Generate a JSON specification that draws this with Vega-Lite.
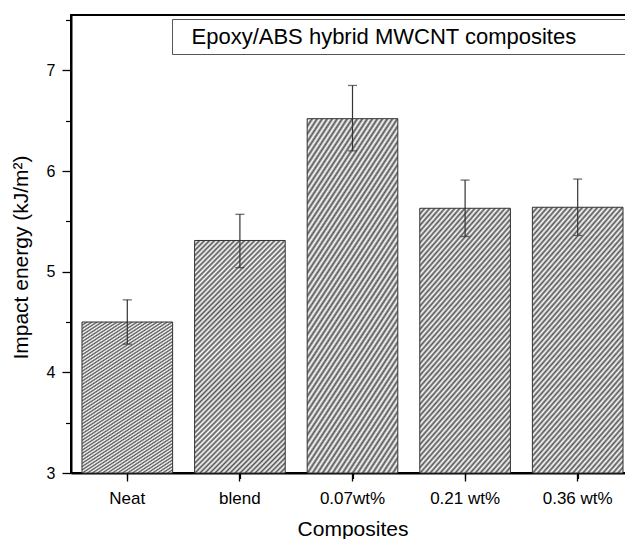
{
  "$schema": "https://vega.github.io/schema/vega-lite/v6.json",
  "autosize": {"type": "none"},
  "width": 563,
  "height": 458,
  "padding": {"left": 71, "top": 15, "right": -9, "bottom": 66},
  "background": "#ffffff",
  "config": {
    "font": "Liberation Sans",
    "view": {"stroke": "#000000", "strokeWidth": 2},
    "axis": {
      "grid": false,
      "labelFont": "Liberation Sans",
      "titleFont": "Liberation Sans",
      "labelColor": "#000000",
      "titleColor": "#000000",
      "domainColor": "#000000",
      "tickColor": "#000000",
      "titleFontWeight": "normal"
    }
  },
  "data": {
    "values": [
      {"composite": "Neat", "energy": 4.50, "lo": 4.28, "hi": 4.72, "series": "Epoxy/ABS hybrid MWCNT composites\u00a0\u00a0\u00a0\u00a0\u00a0\u00a0\u00a0\u00a0\u00a0\u00a0\u200d"},
      {"composite": "blend", "energy": 5.31, "lo": 5.04, "hi": 5.57, "series": "Epoxy/ABS hybrid MWCNT composites\u00a0\u00a0\u00a0\u00a0\u00a0\u00a0\u00a0\u00a0\u00a0\u00a0\u200d"},
      {"composite": "0.07wt%", "energy": 6.52, "lo": 6.20, "hi": 6.85, "series": "Epoxy/ABS hybrid MWCNT composites\u00a0\u00a0\u00a0\u00a0\u00a0\u00a0\u00a0\u00a0\u00a0\u00a0\u200d"},
      {"composite": "0.21 wt%", "energy": 5.63, "lo": 5.35, "hi": 5.91, "series": "Epoxy/ABS hybrid MWCNT composites\u00a0\u00a0\u00a0\u00a0\u00a0\u00a0\u00a0\u00a0\u00a0\u00a0\u200d"},
      {"composite": "0.36 wt%", "energy": 5.64, "lo": 5.36, "hi": 5.92, "series": "Epoxy/ABS hybrid MWCNT composites\u00a0\u00a0\u00a0\u00a0\u00a0\u00a0\u00a0\u00a0\u00a0\u00a0\u200d"}
    ]
  },
  "layer": [
    {
      "layer": [
        {
          "mark": {
            "type": "bar",
            "strokeWidth": 1,
            "fill": {
              "gradient": "linear",
              "x1": 0, "y1": 0, "x2": 0.4748, "y2": 1.2067,
              "stops": [
                {"offset":0,"color":"#555"},{"offset":0.0078,"color":"#fff"},{"offset":0.0156,"color":"#555"},{"offset":0.0234,"color":"#fff"},
                {"offset":0.0313,"color":"#555"},{"offset":0.0391,"color":"#fff"},{"offset":0.0469,"color":"#555"},{"offset":0.0547,"color":"#fff"},
                {"offset":0.0625,"color":"#555"},{"offset":0.0703,"color":"#fff"},{"offset":0.0781,"color":"#555"},{"offset":0.0859,"color":"#fff"},
                {"offset":0.0938,"color":"#555"},{"offset":0.1016,"color":"#fff"},{"offset":0.1094,"color":"#555"},{"offset":0.1172,"color":"#fff"},
                {"offset":0.125,"color":"#555"},{"offset":0.1328,"color":"#fff"},{"offset":0.1406,"color":"#555"},{"offset":0.1484,"color":"#fff"},
                {"offset":0.1563,"color":"#555"},{"offset":0.1641,"color":"#fff"},{"offset":0.1719,"color":"#555"},{"offset":0.1797,"color":"#fff"},
                {"offset":0.1875,"color":"#555"},{"offset":0.1953,"color":"#fff"},{"offset":0.2031,"color":"#555"},{"offset":0.2109,"color":"#fff"},
                {"offset":0.2188,"color":"#555"},{"offset":0.2266,"color":"#fff"},{"offset":0.2344,"color":"#555"},{"offset":0.2422,"color":"#fff"},
                {"offset":0.25,"color":"#555"},{"offset":0.2578,"color":"#fff"},{"offset":0.2656,"color":"#555"},{"offset":0.2734,"color":"#fff"},
                {"offset":0.2813,"color":"#555"},{"offset":0.2891,"color":"#fff"},{"offset":0.2969,"color":"#555"},{"offset":0.3047,"color":"#fff"},
                {"offset":0.3125,"color":"#555"},{"offset":0.3203,"color":"#fff"},{"offset":0.3281,"color":"#555"},{"offset":0.3359,"color":"#fff"},
                {"offset":0.3438,"color":"#555"},{"offset":0.3516,"color":"#fff"},{"offset":0.3594,"color":"#555"},{"offset":0.3672,"color":"#fff"},
                {"offset":0.375,"color":"#555"},{"offset":0.3828,"color":"#fff"},{"offset":0.3906,"color":"#555"},{"offset":0.3984,"color":"#fff"},
                {"offset":0.4063,"color":"#555"},{"offset":0.4141,"color":"#fff"},{"offset":0.4219,"color":"#555"},{"offset":0.4297,"color":"#fff"},
                {"offset":0.4375,"color":"#555"},{"offset":0.4453,"color":"#fff"},{"offset":0.4531,"color":"#555"},{"offset":0.4609,"color":"#fff"},
                {"offset":0.4688,"color":"#555"},{"offset":0.4766,"color":"#fff"},{"offset":0.4844,"color":"#555"},{"offset":0.4922,"color":"#fff"},
                {"offset":0.5,"color":"#555"},{"offset":0.5078,"color":"#fff"},{"offset":0.5156,"color":"#555"},{"offset":0.5234,"color":"#fff"},
                {"offset":0.5313,"color":"#555"},{"offset":0.5391,"color":"#fff"},{"offset":0.5469,"color":"#555"},{"offset":0.5547,"color":"#fff"},
                {"offset":0.5625,"color":"#555"},{"offset":0.5703,"color":"#fff"},{"offset":0.5781,"color":"#555"},{"offset":0.5859,"color":"#fff"},
                {"offset":0.5938,"color":"#555"},{"offset":0.6016,"color":"#fff"},{"offset":0.6094,"color":"#555"},{"offset":0.6172,"color":"#fff"},
                {"offset":0.625,"color":"#555"},{"offset":0.6328,"color":"#fff"},{"offset":0.6406,"color":"#555"},{"offset":0.6484,"color":"#fff"},
                {"offset":0.6563,"color":"#555"},{"offset":0.6641,"color":"#fff"},{"offset":0.6719,"color":"#555"},{"offset":0.6797,"color":"#fff"},
                {"offset":0.6875,"color":"#555"},{"offset":0.6953,"color":"#fff"},{"offset":0.7031,"color":"#555"},{"offset":0.7109,"color":"#fff"},
                {"offset":0.7188,"color":"#555"},{"offset":0.7266,"color":"#fff"},{"offset":0.7344,"color":"#555"},{"offset":0.7422,"color":"#fff"},
                {"offset":0.75,"color":"#555"},{"offset":0.7578,"color":"#fff"},{"offset":0.7656,"color":"#555"},{"offset":0.7734,"color":"#fff"},
                {"offset":0.7813,"color":"#555"},{"offset":0.7891,"color":"#fff"},{"offset":0.7969,"color":"#555"},{"offset":0.8047,"color":"#fff"},
                {"offset":0.8125,"color":"#555"},{"offset":0.8203,"color":"#fff"},{"offset":0.8281,"color":"#555"},{"offset":0.8359,"color":"#fff"},
                {"offset":0.8438,"color":"#555"},{"offset":0.8516,"color":"#fff"},{"offset":0.8594,"color":"#555"},{"offset":0.8672,"color":"#fff"},
                {"offset":0.875,"color":"#555"},{"offset":0.8828,"color":"#fff"},{"offset":0.8906,"color":"#555"},{"offset":0.8984,"color":"#fff"},
                {"offset":0.9063,"color":"#555"},{"offset":0.9141,"color":"#fff"},{"offset":0.9219,"color":"#555"},{"offset":0.9297,"color":"#fff"},
                {"offset":0.9375,"color":"#555"},{"offset":0.9453,"color":"#fff"},{"offset":0.9531,"color":"#555"},{"offset":0.9609,"color":"#fff"},
                {"offset":0.9688,"color":"#555"},{"offset":0.9766,"color":"#fff"},{"offset":0.9844,"color":"#555"},{"offset":0.9922,"color":"#fff"},
                {"offset":1,"color":"#555"}
              ]
            }
          },
          "encoding": {
            "x": {
              "field": "composite", "type": "nominal", "sort": null, "title": "Composites",
              "scale": {"paddingInner": 0.195, "paddingOuter": 0.0975},
              "axis": {"labelAngle": 0, "tickSize": 8, "tickWidth": 1.3, "domainWidth": 2,
                       "labelFontSize": 17, "labelPadding": 9, "titleFontSize": 21, "titlePadding": 12}
            },
            "y": {
              "field": "energy", "type": "quantitative", "title": "Impact energy (kJ/m²)",
              "scale": {"domain": [3, 7.55], "nice": false, "zero": false},
              "axis": {"values": [3, 4, 5, 6, 7], "format": "d", "tickSize": 9, "tickWidth": 1.3, "domainWidth": 2,
                       "labelFontSize": 16, "labelPadding": 7, "titleFontSize": 21, "titlePadding": 15, "titleY": 242}
            },
            "y2": {"datum": 3},
            "stroke": {
              "field": "series", "type": "nominal",
              "scale": {"range": ["#333333"]},
              "legend": {
                "title": null, "orient": "none", "legendX": 101, "legendY": 4,
                "strokeColor": "#555555", "fillColor": "#ffffff", "padding": 6.5,
                "labelFont": "Liberation Sans", "labelFontSize": 22, "labelColor": "#000000",
                "labelLimit": 1000, "labelOffset": -9,
                "symbolOpacity": 0, "symbolSize": 1, "symbolStrokeWidth": 0
              }
            }
          }
        },
        {
          "mark": {"type": "rule", "color": "#333333", "strokeWidth": 1.2},
          "encoding": {
            "x": {"field": "composite", "type": "nominal", "sort": null, "title": "Composites"},
            "y": {"field": "lo", "type": "quantitative", "title": "Impact energy (kJ/m²)"},
            "y2": {"field": "hi"}
          }
        },
        {
          "mark": {"type": "tick", "color": "#333333", "size": 9, "thickness": 1.3},
          "encoding": {
            "x": {"field": "composite", "type": "nominal", "sort": null, "title": "Composites"},
            "y": {"field": "lo", "type": "quantitative", "title": "Impact energy (kJ/m²)"}
          }
        },
        {
          "mark": {"type": "tick", "color": "#333333", "size": 9, "thickness": 1.3},
          "encoding": {
            "x": {"field": "composite", "type": "nominal", "sort": null, "title": "Composites"},
            "y": {"field": "hi", "type": "quantitative", "title": "Impact energy (kJ/m²)"}
          }
        }
      ]
    },
    {
      "mark": {"type": "point", "opacity": 0},
      "encoding": {
        "x": {
          "field": "composite", "type": "nominal", "sort": null,
          "scale": {"paddingInner": 0, "paddingOuter": 0},
          "axis": {"orient": "bottom", "bandPosition": 0, "tickSize": 5.5, "tickWidth": 1.2,
                   "labels": false, "domain": false, "title": null}
        },
        "y": {
          "field": "energy", "type": "quantitative",
          "axis": {"orient": "left", "values": [3.5, 4.5, 5.5, 6.5, 7.5], "tickSize": 5.5, "tickWidth": 1.2,
                   "labels": false, "domain": false, "title": null}
        }
      }
    }
  ],
  "resolve": {"scale": {"x": "independent"}, "axis": {"x": "independent", "y": "independent"}}
}
